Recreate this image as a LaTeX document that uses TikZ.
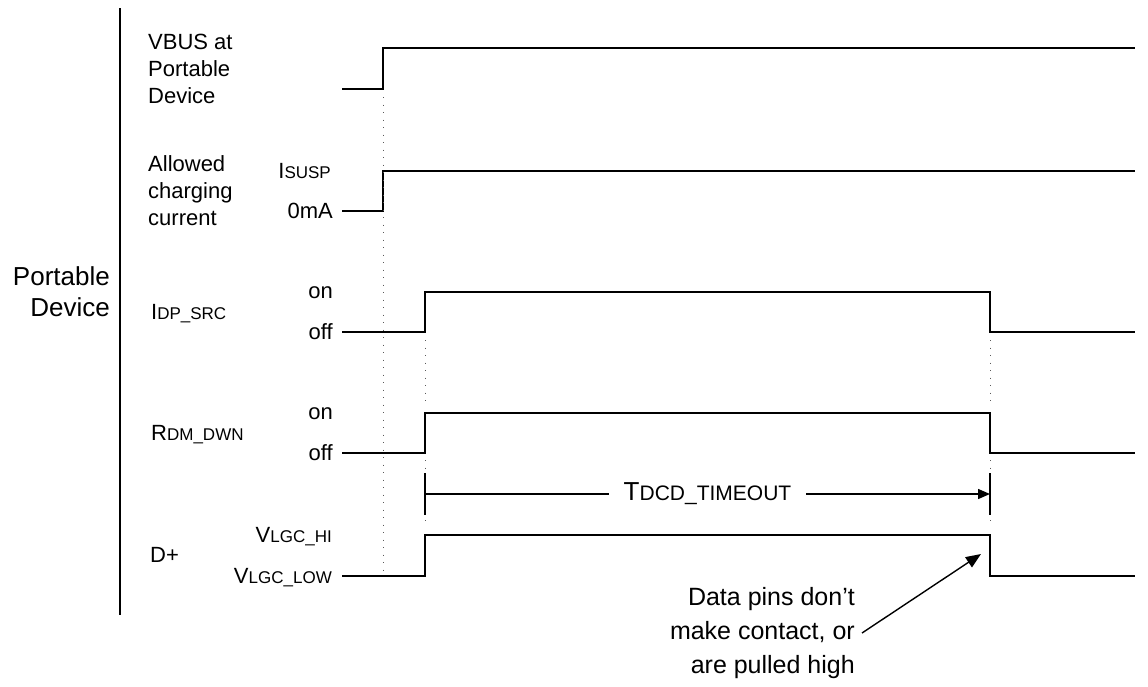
\documentclass[tikz,border=0pt]{standalone}
\usepackage{fontspec}
\setmainfont{Liberation Sans}
\usetikzlibrary{arrows.meta}
\newcommand{\sig}[2]{#1{\fontsize{17}{17}\selectfont #2}}
\begin{document}
\begin{tikzpicture}[x=1pt,y=-1pt,
    wave/.style={line width=1.9pt},
    guide/.style={line width=1pt, black!65, dash pattern=on 1pt off 6.5pt},
    lbl/.style={inner sep=0pt, font=\fontsize{22}{27}\selectfont},
    big/.style={inner sep=0pt, font=\fontsize{26}{31}\selectfont},
    tip/.style={-{Triangle[length=12pt,width=10pt]}, line width=1.4pt}]
    \useasboundingbox (0,0) rectangle (1148,686);

    % Separateur
    \draw [line width=1.8pt] (120,8) -- (120,615);
    \node [big, align=right, anchor=east] (dev) at (110,292) {Portable\\Device};

    % Noms des signaux
    \node [lbl, align=left, anchor=west] (vbus) at (148,69) {VBUS at\\Portable\\Device};
    \node [lbl, align=left, anchor=west] (chg) at (148,191) {Allowed\\charging\\current};
    \node [lbl, anchor=base west] (idp) at (151,319) {\sig{I}{DP\_SRC}};
    \node [lbl, anchor=base west] (rdm) at (151,440) {\sig{R}{DM\_DWN}};
    \node [lbl, anchor=base west] (dp) at (150,562) {D+};

    % Niveaux
    \node [lbl, anchor=base east] (isusp) at (331,178) {\sig{I}{SUSP}};
    \node [lbl, anchor=base east] (zero) at (333,218) {0mA};
    \node [lbl, anchor=base east] (on1) at (333,298) {on};
    \node [lbl, anchor=base east] (off1) at (333,339) {off};
    \node [lbl, anchor=base east] (on2) at (333,419) {on};
    \node [lbl, anchor=base east] (off2) at (333,460) {off};
    \node [lbl, anchor=base east] (vhi) at (332,542) {\sig{V}{LGC\_HI}};
    \node [lbl, anchor=base east] (vlow) at (332,583) {\sig{V}{LGC\_LOW}};

    % Signaux
    \draw [wave] (342,89) -- (383,89) -- (383,48) -- (1135,48);
    \draw [wave] (342,211) -- (383,211) -- (383,171) -- (1135,171);
    \foreach \hi/\lo in {292/332, 413/453, 535/576} {
        \draw [wave] (342,\lo) -- (425,\lo) -- (425,\hi) -- (990,\hi) -- (990,\lo) -- (1135,\lo);
    }

    % Reperes
    \draw [guide] (383,97) -- (383,576);
    \foreach \x in {425, 990} {
        \draw [guide] (\x,340) -- (\x,405);
        \draw [guide] (\x,460) -- (\x,527);
        \draw [line width=1.4pt] (\x,473) -- (\x,515);
    }

    % Duree
    \coordinate (t0) at (425,494);
    \coordinate (t1) at (990,494);
    \draw [tip] (t0) -- (t1) node [midway, fill=white, inner xsep=15pt, inner ysep=2pt, font=\fontsize{26}{26}\selectfont] (tdcd) {T{\fontsize{21}{21}\selectfont DCD\_TIMEOUT}};

    % Annotation
    \node [big, align=right, anchor=east, font=\fontsize{25}{34}\selectfont] (note) at (855,633) {Data pins don’t\\make contact, or\\are pulled high};
    \coordinate (edge) at (981,554);
    \draw [tip, -{Triangle[length=15pt,width=12pt]}] ([xshift=7pt]note.east) -- (edge);
\end{tikzpicture}
\end{document}
